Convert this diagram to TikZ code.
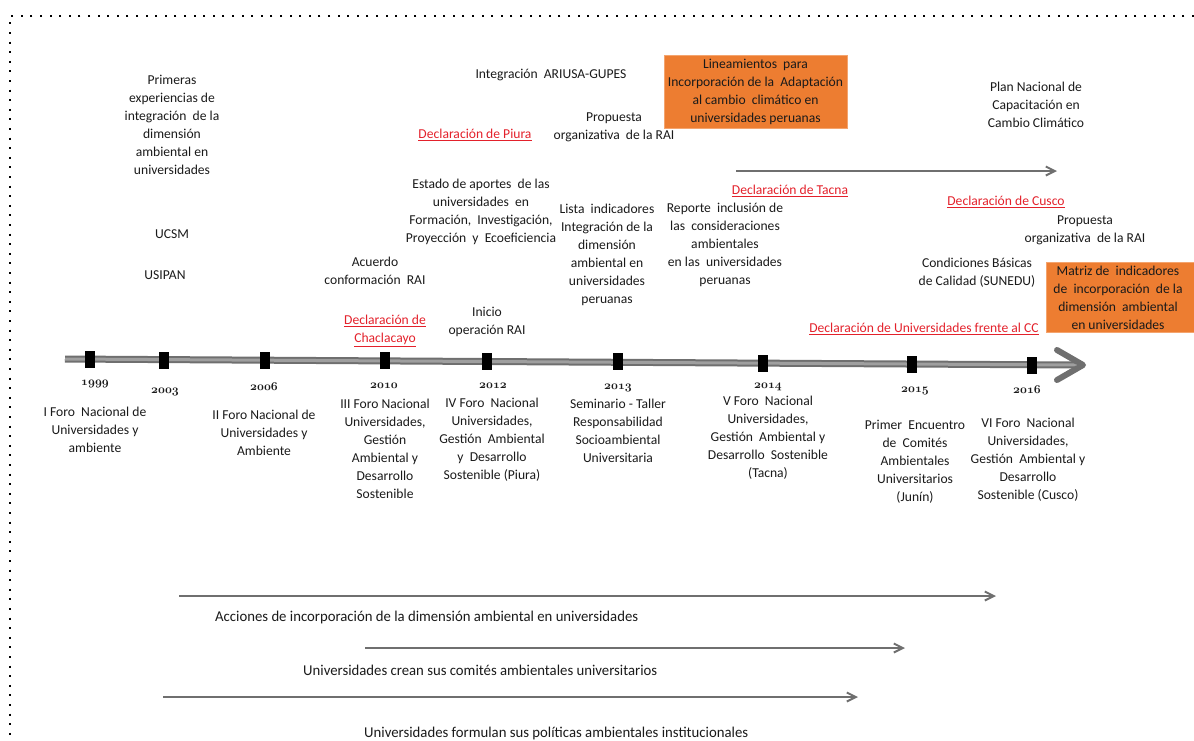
\documentclass[tikz,border=0pt]{standalone}
\usepackage{fontspec}
\setmainfont{Carlito}
\usetikzlibrary{arrows.meta}
\definecolor{orangebox}{HTML}{ED7D31}
\definecolor{orangeedge}{HTML}{F4A46E}
\definecolor{redtxt}{HTML}{E3212B}
\definecolor{axisgray}{HTML}{6F6F6F}
\definecolor{txtgray}{HTML}{1A1A1A}
\newcommand{\decl}[1]{\textcolor{redtxt}{\underline{#1}}}
\newcommand{\fitw}[2]{\resizebox{#1}{\height}{#2}}
\newcommand{\yrnum}[1]{{\usefont{OML}{cmm}{b}{it}#1}}
\begin{document}
\begin{tikzpicture}[x=1pt,y=-1pt,
  txt/.style={font=\fontsize{13.6}{18}\selectfont, align=center, inner sep=0pt, text=txtgray},
  yr/.style={font=\fontsize{12.5}{13}\selectfont, inner sep=0pt, text=txtgray},
  tickbox/.style={fill=black, minimum width=10pt, minimum height=17pt, inner sep=0pt},
  obox/.style={fill=orangebox, draw=orangeedge, line width=1pt, inner sep=0pt, align=center},
  garrow/.style={draw=axisgray, line width=2pt, -{Straight Barb[length=9pt,width=9pt]}},
  btxt/.style={font=\fontsize{15}{17}\selectfont, inner sep=0pt, text=txtgray}
]
\useasboundingbox (0,0) rectangle (1194,740);
% dotted frame
\draw[line width=2pt, dash pattern=on 2pt off 7.6pt] (1194,16) -- (10,16) -- (10,740);

% timeline
\coordinate (tlstart) at (65,359);
\coordinate (tlend) at (1076,365);
\coordinate (tip) at (1083,365);
\draw[line width=7pt, axisgray] (tlstart) -- (tlend);
\draw[line width=3pt, gray!75] (tlstart) -- (tlend);
\draw[line width=6pt, axisgray, line cap=round, line join=round] (1057,350) -- (tip) -- (1057,380);

% ticks
\node[tickbox] (t1999) at (90,359) {};
\node[tickbox] (t2003) at (164,360) {};
\node[tickbox] (t2006) at (265,360) {};
\node[tickbox] (t2010) at (385,360) {};
\node[tickbox] (t2012) at (487,361) {};
\node[tickbox] (t2013) at (618,361) {};
\node[tickbox] (t2014) at (763,363) {};
\node[tickbox] (t2015) at (912,364) {};
\node[tickbox] (t2016) at (1032,365) {};

% years
\node[yr] (y1999) at (95,384) {\yrnum{1999}};
\node[yr] (y2003) at (165,392) {\yrnum{2003}};
\node[yr] (y2006) at (264,387) {\yrnum{2006}};
\node[yr] (y2010) at (384,386) {\yrnum{2010}};
\node[yr] (y2012) at (493,386) {\yrnum{2012}};
\node[yr] (y2013) at (618,388) {\yrnum{2013}};
\node[yr] (y2014) at (768,387) {\yrnum{2014}};
\node[yr] (y2015) at (915,391) {\yrnum{2015}};
\node[yr] (y2016) at (1027,390) {\yrnum{2016}};

% below timeline
\node[txt] (f1) at (95,430) {I Foro\ \ Nacional de\\Universidades y\\ambiente};
\node[txt] (f2) at (264,433) {II Foro Nacional de\\Universidades y\\Ambiente};
\node[txt] (f3) at (385,449) {III Foro Nacional\\Universidades,\\Gestión\\Ambiental y\\Desarrollo\\Sostenible};
\node[txt] (f4) at (492,440) {IV Foro\ \ Nacional\\Universidades,\\Gestión\ \ Ambiental\\y\ \ Desarrollo\\Sostenible (Piura)};
\node[txt] (sem) at (618,431) {Seminario - Taller\\Responsabilidad\\Socioambiental\\Universitaria};
\node[txt] (f5) at (768,438) {V Foro\ \ Nacional\\Universidades,\\Gestión\ \ Ambiental y\\Desarrollo\ \ Sostenible\\(Tacna)};
\node[txt] (enc) at (915,462) {Primer\ \ Encuentro\\de\ \ Comités\\Ambientales\\Universitarios\\(Junín)};
\node[txt] (f6) at (1028,460) {VI Foro\ \ Nacional\\Universidades,\\Gestión\ \ Ambiental y\\Desarrollo\\Sostenible (Cusco)};

% above timeline
\node[txt] (prim) at (172,125) {Primeras\\experiencias de\\integración\ \ de la\\dimensión\\ambiental en\\universidades};
\node[txt] (ucsm) at (172,234) {UCSM};
\node[txt] (usipan) at (165,275) {USIPAN};
\node[txt] (acu) at (375,271) {Acuerdo\\conformación\ \ RAI};
\node[txt] (chac) at (385,331) {\decl{Declaración de}\\\decl{Chaclacayo}};
\node[txt] (ini) at (487,322) {Inicio\\operación RAI};
\node[txt] (est) at (481,212) {Estado de aportes\ \ de las\\universidades\ \ en\\Formación,\ \ Investigación,\\Proyección\ \ y\ \ Ecoeficiencia};
\node[txt] (piura) at (475,135) {\decl{Declaración de Piura}};
\node[txt] (ariusa) at (551,75) {Integración\ \ ARIUSA-GUPES};
\node[txt] (prop1) at (614,127) {Propuesta\\organizativa\ \ de la RAI};
\node[txt] (lista) at (607,255) {Lista\ \ indicadores\\Integración de la\\dimensión\\ambiental en\\universidades\\peruanas};
\node[obox, minimum width=183pt, minimum height=73pt] (lin) at (755.5,91.5) {};
\node[txt] (lintxt) at (lin.center) {Lineamientos\ \ para\\Incorporación de la\ \ Adaptación\\al cambio\ \ climático en\\universidades peruanas};
\node[txt] (plan) at (1036,105) {Plan Nacional de\\Capacitación en\\Cambio Climático};
\coordinate (pa1) at (736,171);
\coordinate (pa2) at (1057,171);
\draw[garrow] (pa1) -- (pa2);
\node[txt] (tacna) at (790,191) {\decl{Declaración de Tacna}};
\node[txt] (rep) at (725,245) {Reporte\ \ inclusión de\\las\ \ consideraciones\\ambientales\\en las\ \ universidades\\peruanas};
\node[txt] (cusco) at (1006,202) {\decl{Declaración de Cusco}};
\node[txt] (prop2) at (1085,230) {Propuesta\\organizativa\ \ de la RAI};
\node[txt] (cond) at (977,273) {Condiciones Básicas\\de Calidad (SUNEDU)};
\node[obox, minimum width=148pt, minimum height=70pt] (mat) at (1120,297) {};
\node[txt] (mattxt) at (1118,298) {Matriz de\ \ indicadores\\de\ \ incorporación\ \ de la\\dimensión\ \ ambiental\\en universidades};
\node[txt] (ucc) at (924,329) {\decl{Declaración de Universidades frente al CC}};

% bottom arrows
\coordinate (a1s) at (179,596); \coordinate (a1e) at (996,596);
\coordinate (a2s) at (365,648); \coordinate (a2e) at (905,648);
\coordinate (a3s) at (163,697); \coordinate (a3e) at (858,697);
\draw[garrow] (a1s) -- (a1e);
\draw[garrow] (a2s) -- (a2e);
\draw[garrow] (a3s) -- (a3e);
\node[btxt, anchor=west] (l1) at (215,617) {\fitw{423pt}{Acciones de incorporación de la dimensión ambiental en universidades}};
\node[btxt, anchor=west] (l2) at (303,670) {\fitw{354pt}{Universidades crean sus comités ambientales universitarios}};
\node[btxt, anchor=west] (l3) at (364,733) {\fitw{384pt}{Universidades formulan sus políticas ambientales institucionales}};
\end{tikzpicture}
\end{document}
